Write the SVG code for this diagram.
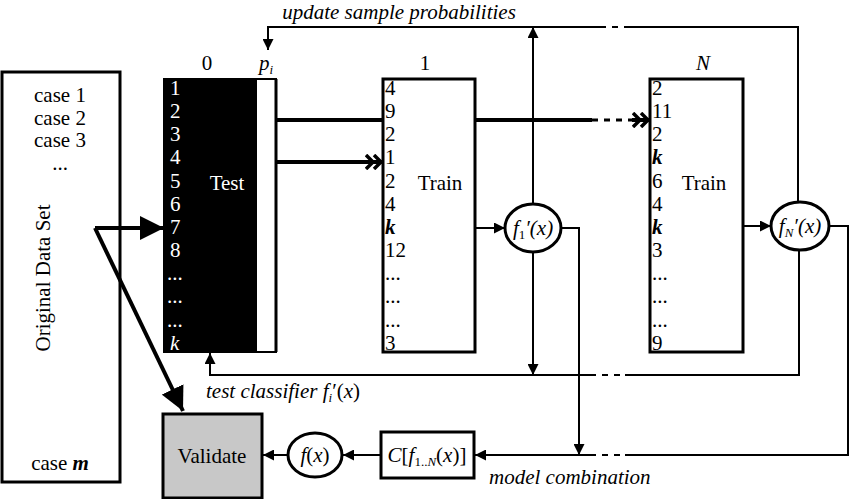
<svg xmlns="http://www.w3.org/2000/svg" width="850" height="499" viewBox="0 0 850 499" font-family="'Liberation Serif', 'Times New Roman', 'DejaVu Serif', serif" font-size="21">
<style>
text{font-family:'Liberation Serif','Times New Roman','DejaVu Serif',serif;font-size:21px;fill:#000}
.i{font-style:italic}
.w{fill:#fff}
.box{fill:#fff;stroke:#000;stroke-width:3}
.ln{fill:none;stroke:#000;stroke-width:2}
.th{fill:none;stroke:#000;stroke-width:4}
.d{fill:none;stroke:#000;stroke-width:2;stroke-dasharray:6 6}
.dt{fill:none;stroke:#000;stroke-width:3;stroke-dasharray:6 6}
</style>
<defs>
<marker id="a" viewBox="0 0 10 10" refX="10" refY="5" markerWidth="11" markerHeight="11" markerUnits="userSpaceOnUse" orient="auto"><path d="M0,0L10,5L0,10z"/></marker>
<marker id="dc" viewBox="0 0 18 16" refX="18" refY="8" markerWidth="18" markerHeight="16" markerUnits="userSpaceOnUse" orient="auto"><path d="M1,1L8,8L1,15M9,1L16,8L9,15" fill="none" stroke="#000" stroke-width="3.5"/></marker>
<marker id="big" viewBox="0 0 10 10" refX="10" refY="5" markerWidth="6" markerHeight="6" orient="auto"><path d="M0,0L10,5L0,10z"/></marker>
</defs>
<g id="original">
<rect class="box" x="2" y="72" width="118" height="410"/>
<text x="60" y="102" text-anchor="middle">case 1</text>
<text x="60" y="125" text-anchor="middle">case 2</text>
<text x="60" y="147" text-anchor="middle">case 3</text>
<text x="60" y="170" text-anchor="middle">...</text>
<text transform="translate(50,278) rotate(-90)" text-anchor="middle">Original Data Set</text>
<text x="60" y="470" text-anchor="middle">case <tspan font-weight="bold" font-style="italic">m</tspan></text>
</g>
<g id="test">
<text x="207" y="70" text-anchor="middle">0</text>
<text x="266" y="70" text-anchor="middle" class="i">p<tspan font-size="13" dy="4">i</tspan></text>
<rect x="164" y="79" width="112" height="273" fill="#000" stroke="#000" stroke-width="2"/>
<rect x="257" y="80" width="18" height="271" fill="#fff"/>
<line x1="276" y1="79" x2="276" y2="352" stroke="#000" stroke-width="3"/>
<text x="170" y="95" class="w">1</text><text x="170" y="118" class="w">2</text><text x="170" y="141" class="w">3</text><text x="170" y="164" class="w">4</text><text x="170" y="188" class="w">5</text><text x="170" y="211" class="w">6</text><text x="170" y="234" class="w">7</text><text x="170" y="257" class="w">8</text><text x="167" y="280" class="w">...</text><text x="167" y="303" class="w">...</text><text x="167" y="327" class="w">...</text><text x="170" y="350" class="w i">k</text>
<text x="227" y="190" class="w" text-anchor="middle">Test</text>
</g>
<g id="train1">
<text x="425" y="70" text-anchor="middle">1</text>
<rect class="box" x="383" y="79" width="92" height="273"/>
<text x="385" y="95">4</text><text x="385" y="118">9</text><text x="385" y="141">2</text><text x="385" y="164">1</text><text x="385" y="188">2</text><text x="385" y="211">4</text><text x="385" y="234" class="i" font-weight="bold">k</text><text x="385" y="257">12</text><text x="385" y="280">...</text><text x="385" y="303">...</text><text x="385" y="327">...</text><text x="385" y="350">3</text>
<text x="440" y="190" text-anchor="middle">Train</text>
</g>
<g id="trainN">
<text x="703" y="70" text-anchor="middle" class="i">N</text>
<rect class="box" x="650" y="79" width="93" height="273"/>
<text x="652" y="95">2</text><text x="652" y="118">11</text><text x="652" y="141">2</text><text x="652" y="164" class="i" font-weight="bold">k</text><text x="652" y="188">6</text><text x="652" y="211">4</text><text x="652" y="234" class="i" font-weight="bold">k</text><text x="652" y="257">3</text><text x="652" y="280">...</text><text x="652" y="303">...</text><text x="652" y="327">...</text><text x="652" y="350">9</text>
<text x="704" y="190" text-anchor="middle">Train</text>
</g>
<g id="f1">
<ellipse class="box" cx="533" cy="228" rx="28" ry="24"/>
<text x="533" y="235" text-anchor="middle" class="i">f<tspan font-size="13" dy="4" font-style="normal">1</tspan><tspan dy="-4">′(x)</tspan></text>
</g>
<g id="fN">
<ellipse class="box" cx="800" cy="226" rx="29" ry="24"/>
<text x="800" y="233" text-anchor="middle" class="i">f<tspan font-size="13" dy="4">N</tspan><tspan dy="-4">′(x)</tspan></text>
</g>
<g id="comb">
<rect class="box" x="381" y="432" width="93" height="46"/>
<text x="427" y="462" text-anchor="middle"><tspan class="i">C</tspan>[<tspan class="i">f</tspan><tspan font-size="13" dy="4">1..<tspan class="i">N</tspan></tspan><tspan dy="-4">(<tspan class="i">x</tspan>)]</tspan></text>
</g>
<g id="fx">
<ellipse class="box" cx="315" cy="455" rx="27" ry="22"/>
<text x="315" y="462" text-anchor="middle"><tspan class="i">f</tspan>(<tspan class="i">x</tspan>)</text>
</g>
<g id="validate">
<rect x="163" y="414" width="99" height="84" fill="#c8c8c8" stroke="#000" stroke-width="3"/>
<text x="212" y="463" text-anchor="middle">Validate</text>
</g>
<g id="labels">
<text x="399" y="19" text-anchor="middle" class="i">update sample probabilities</text>
<text x="206" y="398" class="i">test classifier  f<tspan font-size="13" dy="4">i</tspan><tspan dy="-4" font-style="normal">′(</tspan>x<tspan font-style="normal">)</tspan></text>
<text x="489" y="484" class="i">model combination</text>
</g>
<g id="connectors">
<line class="th" x1="95" y1="228" x2="164" y2="228" marker-end="url(#big)"/>
<line class="th" x1="95" y1="228" x2="183" y2="411" marker-end="url(#big)"/>
<line class="th" x1="277" y1="120" x2="383" y2="120"/>
<line class="th" x1="277" y1="162" x2="383" y2="162" marker-end="url(#dc)"/>
<line class="th" x1="475" y1="120" x2="592" y2="120"/>
<line class="dt" x1="592" y1="120" x2="632" y2="120"/>
<line class="th" x1="632" y1="120" x2="650" y2="120" marker-end="url(#dc)"/>
<line class="ln" x1="475" y1="228" x2="505" y2="228" marker-end="url(#a)"/>
<line class="ln" x1="743" y1="226" x2="771" y2="226" marker-end="url(#a)"/>
<line class="ln" x1="533" y1="204" x2="533" y2="27" marker-end="url(#a)"/>
<polyline class="ln" points="600,27 268,27 268,50" marker-end="url(#a)"/>
<line class="d" x1="600" y1="27" x2="625" y2="27"/>
<polyline class="ln" points="625,27 798,27 798,202"/>
<line class="ln" x1="533" y1="252" x2="533" y2="375" marker-end="url(#a)"/>
<polyline class="ln" points="590,375 210,375 210,353" marker-end="url(#a)"/>
<line class="d" x1="590" y1="375" x2="625" y2="375"/>
<polyline class="ln" points="625,375 799,375 799,250"/>
<polyline class="ln" points="561,228 579,228 579,455" marker-end="url(#a)"/>
<line class="ln" x1="590" y1="455" x2="475" y2="455" marker-end="url(#a)"/>
<line class="d" x1="590" y1="455" x2="625" y2="455"/>
<polyline class="ln" points="625,455 848,455 848,226 829,226"/>
<line class="ln" x1="381" y1="455" x2="343" y2="455" marker-end="url(#a)"/>
<line class="ln" x1="288" y1="455" x2="263" y2="455" marker-end="url(#a)"/>
</g>
</svg>
